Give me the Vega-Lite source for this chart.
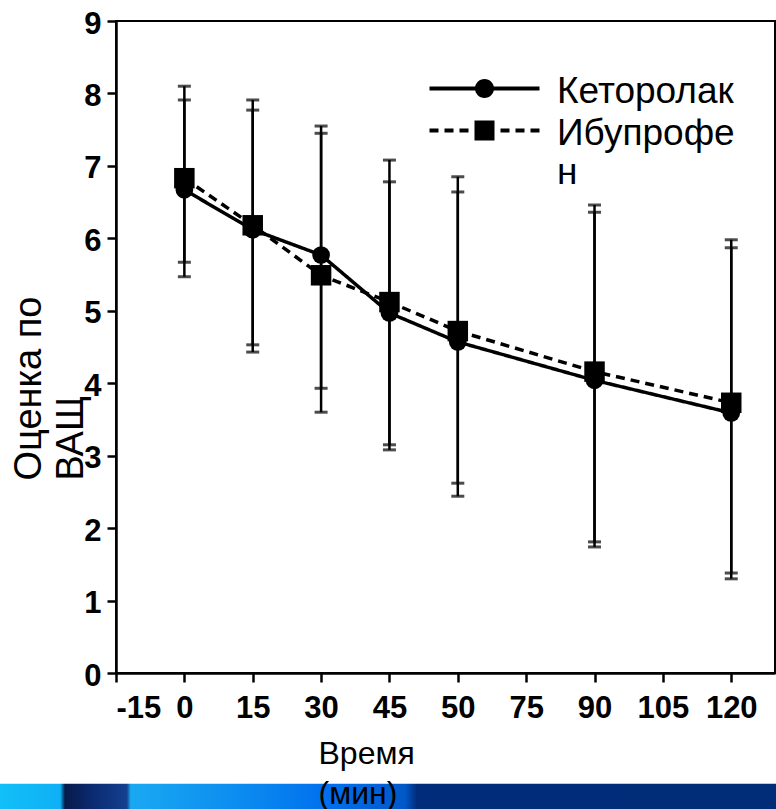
{
  "$schema": "https://vega.github.io/schema/vega-lite/v6.json",
  "width": 659,
  "height": 652,
  "autosize": {"type": "none"},
  "padding": {"left": 116, "top": 21, "right": 1, "bottom": 136},
  "background": "white",
  "config": {
    "view": {"stroke": "black", "strokeWidth": 2},
    "axis": {
      "grid": false,
      "domainColor": "black",
      "domainWidth": 2.5,
      "tickColor": "black",
      "tickWidth": 2.5,
      "tickSize": 9,
      "labelFont": "Liberation Sans",
      "labelFontWeight": "bold",
      "labelFontSize": 31,
      "labelColor": "black",
      "titleFont": "Liberation Sans",
      "titleFontWeight": "normal",
      "titleColor": "black"
    }
  },
  "data": {
    "values": [
      {"t": 0, "series": "Кеторолак", "mean": 6.67, "lo": 5.47, "hi": 7.91},
      {"t": 0, "series": "Ибупрофен", "mean": 6.83, "lo": 5.67, "hi": 8.10},
      {"t": 15, "series": "Кеторолак", "mean": 6.12, "lo": 4.43, "hi": 7.77},
      {"t": 15, "series": "Ибупрофен", "mean": 6.18, "lo": 4.53, "hi": 7.91},
      {"t": 30, "series": "Кеторолак", "mean": 5.77, "lo": 3.93, "hi": 7.55},
      {"t": 30, "series": "Ибупрофен", "mean": 5.49, "lo": 3.60, "hi": 7.45},
      {"t": 45, "series": "Кеторолак", "mean": 4.97, "lo": 3.08, "hi": 6.78},
      {"t": 45, "series": "Ибупрофен", "mean": 5.12, "lo": 3.15, "hi": 7.08},
      {"t": 60, "series": "Кеторолак", "mean": 4.57, "lo": 2.44, "hi": 6.64},
      {"t": 60, "series": "Ибупрофен", "mean": 4.72, "lo": 2.62, "hi": 6.85},
      {"t": 90, "series": "Кеторолак", "mean": 4.04, "lo": 1.74, "hi": 6.36},
      {"t": 90, "series": "Ибупрофен", "mean": 4.16, "lo": 1.81, "hi": 6.46},
      {"t": 120, "series": "Кеторолак", "mean": 3.59, "lo": 1.30, "hi": 5.87},
      {"t": 120, "series": "Ибупрофен", "mean": 3.73, "lo": 1.38, "hi": 5.98}
    ]
  },
  "resolve": {"scale": {"shape": "independent"}},
  "layer": [
    {
      "data": {"values": [{"band": "slide"}]},
      "mark": {
        "type": "rect",
        "clip": false,
        "color": {
          "gradient": "linear",
          "x1": 0, "x2": 1, "y1": 0, "y2": 0,
          "stops": [
            {"offset": 0, "color": "#12C0F8"},
            {"offset": 0.08, "color": "#0FB0F5"},
            {"offset": 0.086, "color": "#071A4A"},
            {"offset": 0.12, "color": "#0B2A70"},
            {"offset": 0.165, "color": "#14408F"},
            {"offset": 0.17, "color": "#1AA8F2"},
            {"offset": 0.3, "color": "#0C8EF0"},
            {"offset": 0.42, "color": "#0070EE"},
            {"offset": 0.52, "color": "#0058C8"},
            {"offset": 0.535, "color": "#002C7A"},
            {"offset": 1, "color": "#002C78"}
          ]
        }
      },
      "encoding": {
        "x": {"datum": -41, "type": "quantitative"},
        "x2": {"datum": 131},
        "y": {"datum": -1.53, "type": "quantitative"},
        "y2": {"datum": -2.2}
      }
    },
    {
      "mark": {"type": "rule", "color": "black", "strokeWidth": 2.5},
      "encoding": {
        "x": {
          "field": "t", "type": "quantitative",
          "scale": {"domain": [-15, 129.6], "nice": false, "zero": false},
          "axis": {
            "values": [-15, 0, 15, 30, 45, 60, 75, 90, 105, 120],
            "format": "d",
            "labelExpr": "datum.value == 60 ? '50' : replace(datum.label, '−', '-')",
            "labelPadding": 11,
            "title": ["Время", "(мин)"],
            "titleFontSize": 32,
            "titleAlign": "left",
            "titleBaseline": "alphabetic",
            "titleX": 202,
            "titleY": 90,
            "titleLineHeight": 40,
            "zindex": 1
          }
        },
        "y": {
          "field": "lo", "type": "quantitative",
          "scale": {"domain": [0, 9], "nice": false},
          "axis": {
            "values": [0, 1, 2, 3, 4, 5, 6, 7, 8, 9],
            "format": "d",
            "labelPadding": 6,
            "labelOffset": 3,
            "title": ["Оценка по", "ВАЩ"],
            "titleFontSize": 38,
            "titleAngle": 270,
            "titleAlign": "left",
            "titleBaseline": "alphabetic",
            "titleX": -76,
            "titleY": 459,
            "titleLineHeight": 42
          }
        },
        "y2": {"field": "hi"}
      }
    },
    {
      "mark": {"type": "tick", "orient": "horizontal", "size": 13, "thickness": 3, "color": "black"},
      "encoding": {
        "x": {"field": "t", "type": "quantitative"},
        "y": {"field": "hi", "type": "quantitative"}
      }
    },
    {
      "mark": {"type": "tick", "orient": "horizontal", "size": 13, "thickness": 3, "color": "black"},
      "encoding": {
        "x": {"field": "t", "type": "quantitative"},
        "y": {"field": "lo", "type": "quantitative"}
      }
    },
    {
      "mark": {"type": "line", "color": "black", "strokeWidth": 3.5},
      "encoding": {
        "x": {"field": "t", "type": "quantitative"},
        "y": {"field": "mean", "type": "quantitative"},
        "strokeDash": {
          "field": "series", "type": "nominal",
          "scale": {"domain": ["Кеторолак", "Ибупрофен"], "range": [[1, 0], [9, 6]]},
          "legend": null
        }
      }
    },
    {
      "mark": {"type": "point", "filled": true, "color": "black", "opacity": 1},
      "encoding": {
        "x": {"field": "t", "type": "quantitative"},
        "y": {"field": "mean", "type": "quantitative"},
        "shape": {
          "field": "series", "type": "nominal",
          "scale": {"domain": ["Кеторолак", "Ибупрофен"], "range": ["circle", "square"]},
          "legend": null
        },
        "size": {
          "field": "series", "type": "nominal",
          "scale": {"domain": ["Кеторолак", "Ибупрофен"], "range": [314, 420]},
          "legend": null
        }
      }
    },
    {
      "transform": [{"filter": "false"}],
      "mark": {"type": "point", "filled": true, "color": "black", "opacity": 1},
      "encoding": {
        "x": {"field": "t", "type": "quantitative"},
        "y": {"field": "mean", "type": "quantitative"},
        "shape": {
          "field": "series", "type": "nominal",
          "scale": {
            "domain": ["Кеторолак", "Ибупрофен"],
            "range": [
              "M-5.5,-1.6H5.5V-1.2H-5.5ZM-0.95,-1.4A0.95,0.95,0,1,1,0.95,-1.4A0.95,0.95,0,1,1,-0.95,-1.4Z",
              "M-5.5,-1.6H-4.6V-1.2H-5.5ZM-4,-1.6H-3.1V-1.2H-4ZM-2.5,-1.6H-1.6V-1.2H-2.5ZM-1,-2.4H1V-0.4H-1ZM1.6,-1.6H2.5V-1.2H1.6ZM3.1,-1.6H4V-1.2H3.1ZM4.6,-1.6H5.5V-1.2H4.6Z"
            ]
          },
          "legend": {
            "title": null,
            "orient": "none",
            "legendX": 312,
            "legendY": 63,
            "padding": 0,
            "symbolSize": 400,
            "symbolOffset": 38,
            "symbolOpacity": 1,
            "symbolStrokeWidth": 0,
            "symbolFillColor": "black",
            "labelOffset": 54,
            "labelFont": "Liberation Sans",
            "labelFontSize": 37,
            "labelColor": "black",
            "labelLimit": 0,
            "labelBaseline": "alphabetic",
            "rowPadding": 4,
            "labelExpr": "datum.label == 'Ибупрофен' ? ['Ибупрофе', 'н'] : datum.label"
          }
        }
      }
    }
  ]
}
